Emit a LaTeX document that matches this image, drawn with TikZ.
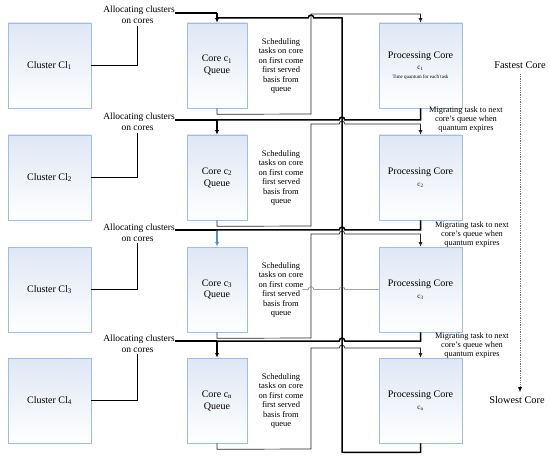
\documentclass[tikz,border=0pt]{standalone}
\usepackage{fontspec}
\setmainfont{Liberation Serif}
\usetikzlibrary{arrows.meta}
\definecolor{boxtop}{RGB}{222,231,245}
\definecolor{boxedge}{RGB}{160,190,222}
\definecolor{arrblue}{RGB}{90,140,200}
\begin{document}
\begin{tikzpicture}[x=1pt,y=-1pt,
  box/.style={draw=boxedge, line width=0.6pt, top color=boxtop, bottom color=white,
    minimum height=85pt, inner sep=0pt, align=center, font=\fontsize{10}{12}\selectfont},
  clusterbox/.style={box, minimum width=83pt},
  queuebox/.style={box, minimum width=60pt},
  procbox/.style={box, minimum width=83pt},
  alloc/.style={inner sep=0pt, font=\fontsize{9.5}{11}\selectfont},
  sched/.style={align=center, inner sep=0pt, font=\fontsize{8.5}{9.4}\selectfont},
  migr/.style={align=center, inner sep=0pt, font=\fontsize{8.3}{9}\selectfont},
  speed/.style={inner sep=1pt, font=\fontsize{10.3}{12}\selectfont},
  thickline/.style={line width=1.5pt},
  thinline/.style={line width=0.7pt, draw=black!85},
  grayline/.style={line width=0.5pt, draw=black!55},
  arr/.style={-{Latex[length=4.5pt,width=4pt]}},
  hop/.style 2 args={insert path={-- ({#1-2.8},#2) .. controls ({#1-2.8},{#2-3.8}) and ({#1+2.8},{#2-3.8}) .. ({#1+2.8},#2)}},
  hopl/.style 2 args={insert path={-- ({#1+2.8},#2) .. controls ({#1+2.8},{#2-3.8}) and ({#1-2.8},{#2-3.8}) .. ({#1-2.8},#2)}},
]
\useasboundingbox (0,0) rectangle (550,460);

\foreach \i/\Y/\L/\T/\s/\ac in {1/23/13/14/1/black, 2/135/120/124/2/black, 3/247/230/234/3/arrblue, 4/358/341/348/n/black}{
  \node[clusterbox] (cl\i) at (49.5,\Y+42.5) {Cluster Cl\textsubscript{\i}};
  \node[queuebox] (q\i) at (217,\Y+42.5) {Core c\textsubscript{\s}\\Queue};
  \ifnum\i=1
    \node[procbox] (p\i) at (420.5,\Y+42.5) {Processing Core\\[-1pt]{\fontsize{7}{8}\selectfont c\textsubscript{\s}}\\[-3pt]{\fontsize{5}{6}\selectfont Time quantum for each task}};
  \else
    \node[procbox] (p\i) at (420.5,\Y+42.5) {Processing Core\\{\fontsize{7}{8}\selectfont c\textsubscript{\s}}};
  \fi
  \node[sched] (s\i) at (281,\Y+43) {Scheduling\\tasks on core\\on first come\\first served\\basis from\\queue};
  \node[alloc, anchor=base east] (al\i) at (175,\L) {Allocating clusters};
  \node[alloc, anchor=base] (oc\i) at (137.5,\L+11) {on cores};
  % cluster to label
  \draw[thickline] (cl\i.east) -| ([yshift=-2pt]oc\i.south);
  % allocation arrow to queue
  \draw[thickline] (al\i.base east) -- (q\i.north |- al\i.base east);
  \draw[thickline, draw=\ac, -{Latex[length=4.5pt,width=4pt,color=\ac]}] (q\i.north |- al\i.base east) -- (q\i.north);
}

% scheduling brackets: queue -> processing core
\draw[thinline, arr] (q1.south) -- ++(0,6) -- (311,114) -- (311,14) -| (p1.north);
\draw[thinline, arr] (q2.south) -- ++(0,6) -- (311,226) -- (311,124) [hop={342}{124}] -| (p2.north);
\draw[thinline, arr] (q3.south) -- ++(0,6) -- (311,338) -- (311,234) [hop={342}{234}] -| (p3.north);
\draw[thinline, arr] (q4.south) -- ++(0,6) -- (311,449) -- (311,348) [hop={342}{348}] -| (p4.north);

% migration to next core's queue
\draw[thickline] (al2.base east) [hop={342}{120}] -| (p1.south);
\draw[thickline] (al3.base east) [hop={342}{230}] -| (p2.south);
\draw[thickline] (al4.base east) [hop={342}{341}] -| (p3.south);

% return from slowest core to first queue
\draw[thickline] (p4.south) -- ++(0,9) -| (342,18) [hopl={311}{18}] -- (q1.north |- 0,18);

% thin gray line in row 3
\coordinate (g3) at (302,289.5);
\draw[grayline] (g3) [hop={311}{289.5}] [hop={342}{289.5}] -- (p3.west);

% migration labels
\node[migr] (m1) at (466,120) {Migrating task to next\\core’s queue when\\quantum expires};
\node[migr] (m2) at (472,235) {Migrating task to next\\core’s queue when\\quantum expires};
\node[migr] (m3) at (472,346) {Migrating task to next\\core’s queue when\\quantum expires};

% speed axis
\node[speed] (fast) at (520,65) {Fastest Core};
\node[speed] (slow) at (517,400) {Slowest Core};
\draw[draw=black!55, line width=0.8pt, dash pattern=on 1.3pt off 1pt, shorten <=4pt, shorten >=3pt,
  -{Latex[length=5pt,width=4pt,color=black]}] (fast.south) -- (fast.south |- slow.north);
\end{tikzpicture}
\end{document}
